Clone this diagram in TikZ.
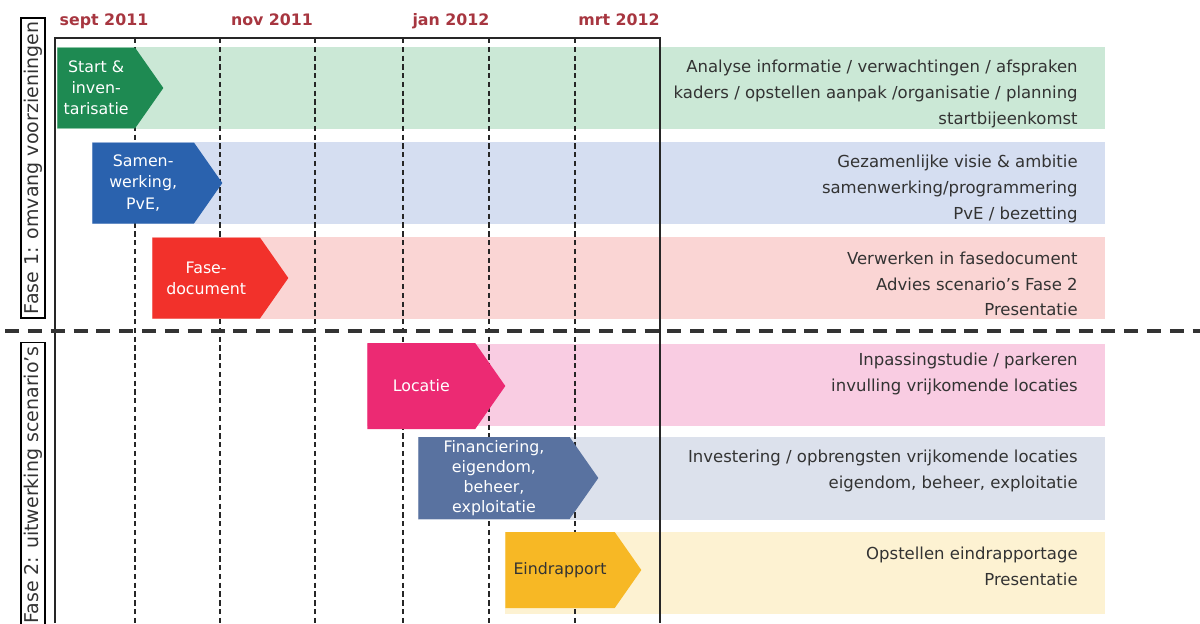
\documentclass[tikz,border=0pt]{standalone}
\usepackage{fontspec}
\setmainfont{DejaVu Sans}
\usetikzlibrary{shapes.symbols}
\usetikzlibrary{positioning}
\definecolor{monthred}{HTML}{A73640}
\definecolor{textgrey}{HTML}{333333}
\definecolor{greenarr}{HTML}{1E8A52}
\definecolor{greenband}{HTML}{CBE8D6}
\definecolor{bluearr}{HTML}{2A62AE}
\definecolor{blueband}{HTML}{D5DEF1}
\definecolor{redarr}{HTML}{F2312B}
\definecolor{redband}{HTML}{FAD5D4}
\definecolor{pinkarr}{HTML}{EC2A73}
\definecolor{pinkband}{HTML}{F9CCE2}
\definecolor{slatearr}{HTML}{5972A0}
\definecolor{slateband}{HTML}{DCE1EC}
\definecolor{yellowarr}{HTML}{F7B825}
\definecolor{yellowband}{HTML}{FDF2D2}
\tikzset{
    stage/.style = {signal, signal to=east, signal pointer angle=110, anchor=west, draw=none, inner sep=1pt, align=center, text=white, font=\fontsize{9}{12}\selectfont},
    month/.style = {anchor=base, text=monthred, font=\bfseries\fontsize{9}{11}\selectfont},
    tasks/.style = {anchor=east, align=right, text=textgrey, inner sep=0pt, font=\fontsize{9.4}{14.7}\selectfont},
    fase/.style = {draw=black, line width=0.8pt, rotate=90, inner sep=1.5pt, text=textgrey, font=\fontsize{10.8}{12}\selectfont},
    tick/.style = {densely dashed, line width=0.6pt, black!85},
    frame/.style = {line width=1.1pt, black!85},
    split/.style = {line width=2.3pt, dash pattern=on 8pt off 5pt, black!80}
}
\begin{document}
\begin{tikzpicture}[x=0.02cm,y=-0.02cm]
\useasboundingbox (0,0) rectangle (1200,623);
%
% bands
\fill[greenband] (57,47) rectangle (1105,129);
\fill[blueband] (92,142) rectangle (1105,224);
\fill[redband] (152,237) rectangle (1105,319);
\fill[pinkband] (367,344) rectangle (1105,426);
\fill[slateband] (418,437) rectangle (1105,520);
\fill[yellowband] (505,532) rectangle (1105,614);
%
% months
\foreach \gx in {135,220,315,403,489,575}
  \draw[tick] (\gx,38) -- (\gx,623);
\draw[frame] (55,623) -- (55,38) -- (660,38) -- (660,623);
\node[month] at (104,25) (sep) {sept 2011};
\node[month] at (272,25) (nov) {nov 2011};
\node[month] at (451,25) (jan) {jan 2012};
\node[month] at (619,25) (mrt) {mrt 2012};
%
% stages
\node[stage, fill=greenarr, minimum width=2.12cm, minimum height=1.62cm] at (57,88) (start) {Start \&\\inven-\\tarisatie};
\node[stage, fill=bluearr, minimum width=2.6cm, minimum height=1.62cm] at (92,183) (samen) {Samen-\\werking,\\PvE,};
\node[stage, fill=redarr, minimum width=2.72cm, minimum height=1.62cm] at (152,278) (fasedoc) {Fase-\\document};
\node[stage, fill=pinkarr, minimum width=2.76cm, minimum height=1.72cm] at (367,386) (locatie) {Locatie};
\node[stage, fill=slatearr, minimum width=3.6cm, minimum height=1.64cm, font=\fontsize{9}{11.3}\selectfont] at (418,478) (financ) {Financiering,\\eigendom,\\beheer,\\exploitatie};
\node[stage, fill=yellowarr, minimum width=2.72cm, minimum height=1.52cm, text=textgrey] at (505,570) (eind) {Eindrapport};
%
% tasks
\node[tasks] at (1078,94) (t1) {Analyse informatie / verwachtingen / afspraken\\kaders / opstellen aanpak /organisatie / planning\\startbijeenkomst};
\node[tasks] at (1078,189) (t2) {Gezamenlijke visie \& ambitie\\samenwerking/programmering\\PvE / bezetting};
\node[tasks] at (1078,284) (t3) {Verwerken in fasedocument\\Advies scenario’s Fase 2\\Presentatie};
\node[tasks] at (1078,374) (t4) {Inpassingstudie / parkeren\\invulling vrijkomende locaties};
\node[tasks] at (1078,471) (t5) {Investering / opbrengsten vrijkomende locaties\\eigendom, beheer, exploitatie};
\node[tasks] at (1078,566) (t6) {Opstellen eindrapportage\\Presentatie};
%
% phases
\draw[split] (5,331) -- (1200,331);
\node[fase, minimum width=6cm] at (33,168) (fase1) {Fase 1: omvang voorzieningen};
\node[fase, minimum width=5.7cm] at (33,485) (fase2) {Fase 2: uitwerking scenario’s};
\end{tikzpicture}
\end{document}
